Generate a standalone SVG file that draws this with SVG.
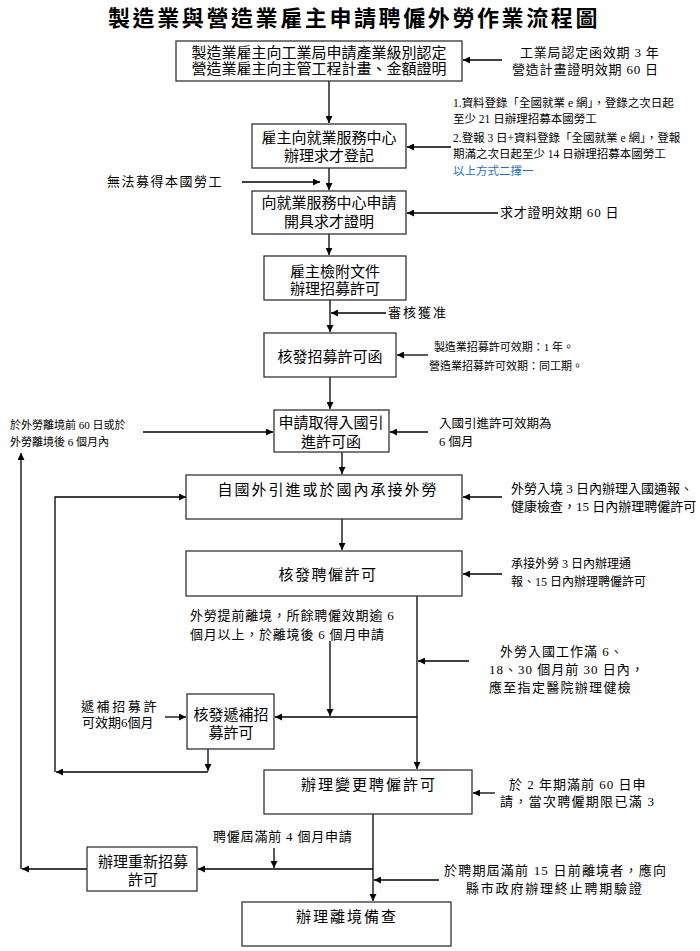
<svg xmlns="http://www.w3.org/2000/svg" width="700" height="951" viewBox="0 0 700 951">
<defs>
<style>
text{font-family:'Liberation Serif','Noto Sans CJK TC',serif;fill:#000}
.t{font-size:15px;text-anchor:middle}
.n{font-size:13px}
.s{font-size:11.5px}
.box{fill:#fff;stroke:#333;stroke-width:1.3}
.ln{fill:none;stroke:#000;stroke-width:1.3}
</style>
<marker id="ah" viewBox="0 0 10 10" refX="10" refY="5" markerWidth="9" markerHeight="7" orient="auto" markerUnits="userSpaceOnUse"><path d="M0,0 L10,5 L0,10 z" fill="#000"/></marker>
</defs>
<rect width="700" height="951" fill="#fff"/>
<text x="354" y="26" style="font-size:22px;font-weight:bold;text-anchor:middle;letter-spacing:2.6px">製造業與營造業雇主申請聘僱外勞作業流程圖</text>

<g id="connectors">
<path class="ln" marker-end="url(#ah)" d="M329,81 V123"/>
<path class="ln" marker-end="url(#ah)" d="M329,168 V190"/>
<path class="ln" marker-end="url(#ah)" d="M329,234 V255"/>
<path class="ln" marker-end="url(#ah)" d="M330,300 V332"/>
<path class="ln" marker-end="url(#ah)" d="M330,377 V409"/>
<path class="ln" marker-end="url(#ah)" d="M342,452 V474"/>
<path class="ln" marker-end="url(#ah)" d="M342,519 V550"/>
<path class="ln" marker-end="url(#ah)" d="M417,596 V769"/>
<path class="ln" marker-end="url(#ah)" d="M330,641 V716"/>
<path class="ln" marker-end="url(#ah)" d="M417,717 H275"/>
<path class="ln" marker-end="url(#ah)" d="M208,749 V771"/>
<path class="ln" marker-end="url(#ah)" d="M208,772 H56"/>
<path class="ln" marker-end="url(#ah)" d="M55,772 V497 H186"/>
<path class="ln" marker-end="url(#ah)" d="M373,814 V901"/>
<path class="ln" marker-end="url(#ah)" d="M373,869 H198"/>
<path class="ln" marker-end="url(#ah)" d="M274,848 V868"/>
<path class="ln" marker-end="url(#ah)" d="M87,869 H22"/>
<path class="ln" marker-end="url(#ah)" d="M21,869 V453"/>
<path class="ln" marker-end="url(#ah)" d="M502,60 H463"/>
<path class="ln" marker-end="url(#ah)" d="M451,147 H407"/>
<path class="ln" marker-end="url(#ah)" d="M242,182 H320"/>
<path class="ln" marker-end="url(#ah)" d="M498,213 H407"/>
<path class="ln" marker-end="url(#ah)" d="M386,313 H331"/>
<path class="ln" marker-end="url(#ah)" d="M428,355 H397"/>
<path class="ln" marker-end="url(#ah)" d="M143,432 H273"/>
<path class="ln" marker-end="url(#ah)" d="M428,432 H390"/>
<path class="ln" marker-end="url(#ah)" d="M502,497 H463"/>
<path class="ln" marker-end="url(#ah)" d="M502,574 H463"/>
<path class="ln" marker-end="url(#ah)" d="M469,661 H418"/>
<path class="ln" marker-end="url(#ah)" d="M165,717 H186"/>
<path class="ln" marker-end="url(#ah)" d="M495,793 H473"/>
<path class="ln" marker-end="url(#ah)" d="M439,880 H374"/>
</g>

<g id="n1"><rect class="box" x="176" y="41" width="286" height="40"/>
<text class="t" x="319" y="58">製造業雇主向工業局申請產業級別認定</text>
<text class="t" x="319" y="74">營造業雇主向主管工程計畫、金額證明</text></g>
<g id="n2"><rect class="box" x="252" y="124" width="154" height="44"/>
<text class="t" x="329" y="143">雇主向就業服務中心</text>
<text class="t" x="329" y="161">辦理求才登記</text></g>
<g id="n3"><rect class="box" x="252" y="191" width="154" height="43"/>
<text class="t" x="329" y="208">向就業服務中心申請</text>
<text class="t" x="329" y="227">開具求才證明</text></g>
<g id="n4"><rect class="box" x="264" y="256" width="142" height="44"/>
<text class="t" x="335" y="277">雇主檢附文件</text>
<text class="t" x="335" y="294">辦理招募許可</text></g>
<g id="n5"><rect class="box" x="264" y="333" width="132" height="44"/>
<text class="t" x="330" y="362">核發招募許可函</text></g>
<g id="n6"><rect class="box" x="274" y="410" width="115" height="42"/>
<text class="t" x="331" y="428">申請取得入國引</text>
<text class="t" x="331" y="447">進許可函</text></g>
<g id="n7"><rect class="box" x="186" y="475" width="276" height="44"/>
<text class="t" x="328" y="495" style="letter-spacing:2px">自國外引進或於國內承接外勞</text></g>
<g id="n8"><rect class="box" x="186" y="551" width="276" height="45"/>
<text class="t" x="328" y="580" style="letter-spacing:1.5px">核發聘僱許可</text></g>
<g id="n9"><rect class="box" x="187" y="694" width="87" height="55"/>
<text class="t" x="231" y="720">核發遞補招</text>
<text class="t" x="231" y="738">募許可</text></g>
<g id="n10"><rect class="box" x="264" y="770" width="208" height="44"/>
<text class="t" x="369" y="790" style="letter-spacing:2px">辦理變更聘僱許可</text></g>
<g id="n11"><rect class="box" x="87" y="847" width="110" height="44"/>
<text class="t" x="143" y="867">辦理重新招募</text>
<text class="t" x="143" y="885">許可</text></g>
<g id="n12"><rect class="box" x="242" y="902" width="209" height="44"/>
<text class="t" x="347" y="922" style="letter-spacing:2px">辦理離境備查</text></g>

<g id="notes">
<text class="n" x="520" y="57" style="letter-spacing:0.8px">工業局認定函效期 3 年</text>
<text class="n" x="512" y="74" style="letter-spacing:0.8px">營造計畫證明效期 60 日</text>
<text class="s" x="453" y="107">1.資料登錄「全國就業 e 網」，登錄之次日起</text>
<text class="s" x="453" y="123">至少 21 日辦理招募本國勞工</text>
<text class="s" x="453" y="142">2.登報 3 日+資料登錄「全國就業 e 網」，登報</text>
<text class="s" x="453" y="158">期滿之次日起至少 14 日辦理招募本國勞工</text>
<text class="s" x="453" y="175" style="fill:#1e6fcc">以上方式二擇一</text>
<text class="n" x="107" y="186" style="letter-spacing:1.5px">無法募得本國勞工</text>
<text class="n" x="500" y="217" style="letter-spacing:0.8px">求才證明效期 60 日</text>
<text class="n" x="388" y="317" style="letter-spacing:2px">審核獲准</text>
<text class="s" x="504" y="351" style="font-size:11px;text-anchor:middle">製造業招募許可效期：1 年。</text>
<text class="s" x="506" y="370" style="font-size:11px;text-anchor:middle">營造業招募許可效期：同工期。</text>
<text class="s" x="10" y="429" style="font-size:11px">於外勞離境前 60 日或於</text>
<text class="s" x="10" y="446" style="font-size:11px">外勞離境後 6 個月內</text>
<text class="s" x="439" y="428" style="font-size:12.5px">入國引進許可效期為</text>
<text class="s" x="439" y="446" style="font-size:12.5px">6 個月</text>
<text class="n" x="511" y="493">外勞入境 3 日內辦理入國通報、</text>
<text class="n" x="511" y="511">健康檢查，15 日內辦理聘僱許可</text>
<text class="n" x="511" y="568" style="font-size:12px">承接外勞  3 日內辦理通</text>
<text class="n" x="511" y="586" style="font-size:12px">報、15 日內辦理聘僱許可</text>
<text class="n" x="190" y="620" style="letter-spacing:0.8px">外勞提前離境，所餘聘僱效期逾 6</text>
<text class="n" x="190" y="639" style="letter-spacing:0.8px">個月以上，於離境後 6 個月申請</text>
<text class="n" x="500" y="656" style="letter-spacing:1px">外勞入國工作滿 6、</text>
<text class="n" x="489" y="674" style="letter-spacing:1px">18、30 個月前 30 日內，</text>
<text class="n" x="489" y="692" style="letter-spacing:1.3px">應至指定醫院辦理健檢</text>
<text class="n" x="81" y="711" style="letter-spacing:2.6px">遞補招募許</text>
<text class="n" x="82" y="727">可效期6個月</text>
<text class="n" x="509" y="789" style="letter-spacing:1px">於 2 年期滿前 60 日申</text>
<text class="n" x="500" y="806" style="letter-spacing:1.3px">請，當次聘僱期限已滿 3</text>
<text class="n" x="213" y="841" style="letter-spacing:0.8px">聘僱屆滿前 4 個月申請</text>
<text class="n" x="444" y="875" style="letter-spacing:1.2px">於聘期屆滿前 15 日前離境者，應向</text>
<text class="n" x="466" y="893" style="letter-spacing:1.8px">縣市政府辦理終止聘期驗證</text>
</g>
</svg>
